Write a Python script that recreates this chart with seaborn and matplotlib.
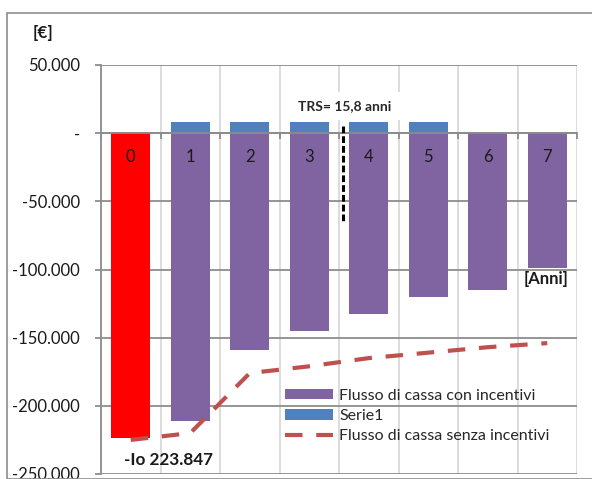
import numpy as np
import matplotlib
matplotlib.use("Agg")
import matplotlib.pyplot as plt
import seaborn as sns
from matplotlib.patches import Patch, Rectangle
from matplotlib.lines import Line2D

# data
anni = [0, 1, 2, 3, 4, 5, 6, 7]
flusso_con = [-223847, -211000, -159000, -145000, -133000, -120000, -115000, -99000]
serie1 = [0, 8000, 8000, 8000, 8000, 8000, 0, 0]
flusso_senza = [-225000, -220000, -176000, -171000, -165000, -161000, -157000, -154000]
trs_x = 3.57
y_ticks = [50000, 0, -50000, -100000, -150000, -200000, -250000]
y_labels = ['50.000', '-', '-50.000', '-100.000', '-150.000', '-200.000', '-250.000']
legend_labels = ['Flusso di cassa con incentivi', 'Serie1', 'Flusso di cassa senza incentivi']

viola = '#8064A2'
blu = '#4F81BD'
rosso_linea = '#C0504D'
colori = ['#FF0000'] + [viola] * (len(anni) - 1)

sns.set_style("white")
plt.rcParams['font.family'] = ['Lato', 'DejaVu Sans']

W, H = 592, 479
fig = plt.figure(figsize=(W / 100, H / 100), dpi=100)
ax = fig.add_axes([101 / W, 1 - 474 / H, 476 / W, 409 / H])

# outer chart frame
fig.patches.append(Rectangle((7 / W, 0), 1, 1 - 13 / H, transform=fig.transFigure,
                             fill=False, edgecolor='#8C8C8C', lw=1.2))

#
# bars
#
sns.barplot(x=anni, y=flusso_con, hue=[str(a) for a in anni], palette=colori,
            legend=False, width=0.66, saturation=1, errorbar=None, linewidth=0, ax=ax)
sns.barplot(x=anni, y=serie1, color=blu, width=0.66, saturation=1,
            errorbar=None, linewidth=0, ax=ax)

#
# line
#
sns.lineplot(x=np.arange(len(anni)), y=flusso_senza, color=rosso_linea, lw=3.0,
             linestyle=(0, (4.2, 3.3)), ax=ax, zorder=4)

# TRS marker
ax.plot([trs_x, trs_x], [5000, -65000], color='black', lw=2.2,
        linestyle=(0, (2.2, 1.0)), zorder=5)
ax.text(3.6, 19900, 'TRS= 15,8 anni', ha='center', va='center', fontsize=10,
        fontweight='bold', zorder=6,
        bbox=dict(facecolor='white', edgecolor='none', pad=6))

# category labels inside the bars
for i, a in enumerate(anni):
    ax.text(i, -17600, str(a), ha='center', va='center', fontsize=12,
            color='#1a1a1a', zorder=6)

ax.text(6.98, -107000, '[Anni]', ha='center', va='center', fontsize=12,
        fontweight='bold', color='#1a1a1a', zorder=6)
ax.text(0.64, -240000, '-Io 223.847', ha='center', va='center', fontsize=12.3,
        fontweight='bold', color='#1a1a1a', zorder=6)
fig.text(43 / W, 1 - 33 / H, '[€]', ha='center', va='center', fontsize=12.3,
         fontweight='bold', color='#1a1a1a')

#
# axes
#
ax.set_xlim(-0.5, len(anni) - 0.5)
ax.set_ylim(-250000, 50000)
ax.set_yticks(y_ticks, labels=y_labels)
ax.set_xticks([])
ax.set_xticks(np.arange(len(anni) + 1) - 0.5, minor=True)
ax.set_xlabel('')
ax.set_ylabel('')

ax.set_axisbelow(True)
ax.grid(axis='y', which='major', color='#8C8C8C', lw=1.3)
ax.grid(axis='x', which='minor', color='#D9D9D9', lw=1.3)

ax.spines['top'].set_visible(False)
ax.spines['right'].set_visible(False)
ax.spines['left'].set_color('#8C8C8C')
ax.spines['left'].set_linewidth(1.3)
ax.spines['bottom'].set_position(('data', 0))
ax.spines['bottom'].set_color('#8C8C8C')
ax.spines['bottom'].set_linewidth(1.3)
ax.spines['bottom'].set_zorder(3)

ax.tick_params(axis='y', which='major', length=4, width=1.3, color='#8C8C8C',
               pad=11, labelsize=12, labelcolor='#1a1a1a', left=True)
ax.tick_params(axis='x', which='minor', length=4, width=1.3, color='#8C8C8C',
               direction='out', bottom=True)

#
# legend
#
handles = [Patch(facecolor=viola, edgecolor='none'),
           Patch(facecolor=blu, edgecolor='none'),
           Line2D([], [], color=rosso_linea, lw=3.0, linestyle=(0, (4.2, 3.3)))]
ax.legend(handles, legend_labels, loc='upper left', bbox_to_anchor=(0.3866, 0.208),
          frameon=False, fontsize=11.5, handlelength=3.0, handleheight=0.62,
          handletextpad=0.4, labelspacing=0.38, borderpad=0, borderaxespad=0)

fig.savefig('out.png', dpi=100)
